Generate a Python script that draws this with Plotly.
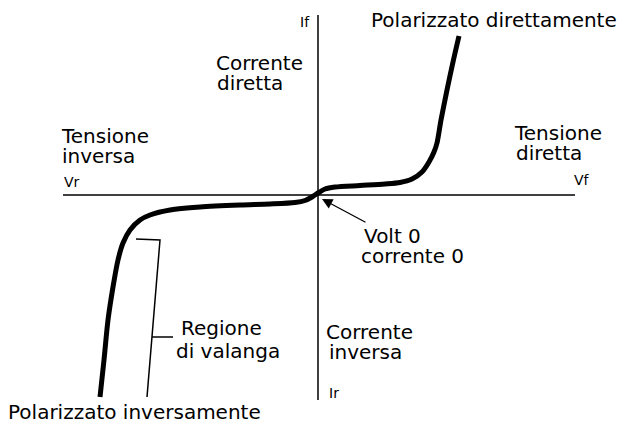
import plotly.graph_objects as go

# Diode I-V characteristic (arbitrary units, origin at axes crossing)
volt = [-21.8, -21.4, -21.0, -20.5, -20.0, -19.5, -18.8, -17.8, -16.8, -14.8,
        -11.8, -7.8, -4.8, -2.3, -1.3, -0.6, 0.0, 0.7, 1.7, 4.2,
        6.7, 8.2, 9.4, 10.4, 11.1, 11.6, 11.9, 12.3, 12.9, 13.5, 14.1]
curr = [-20.2, -16.5, -12.5, -9.2, -6.5, -4.8, -3.5, -2.5, -2.0, -1.5,
        -1.2, -1.0, -0.9, -0.75, -0.55, -0.2, 0.2, 0.6, 0.8, 0.95,
        1.1, 1.25, 1.6, 2.3, 3.3, 4.3, 5.2, 7.5, 10.5, 13.3, 15.9]

# Avalanche-region bracket
brk_v = [-18.2, -15.8, -17.1]
brk_i = [-4.4, -4.5, -20.2]
tick_v = [-16.6, -14.5]
tick_i = [-14.2, -14.2]

# Axis extents
x_axis_v = [-25.5, 25.7]
y_axis_i = [-20.5, 18.0]

FONT = "DejaVu Sans"

fig = go.Figure()

fig.add_trace(go.Scatter(x=x_axis_v, y=[0, 0], mode="lines",
                         line=dict(color="black", width=1.5), hoverinfo="skip"))
fig.add_trace(go.Scatter(x=[0, 0], y=y_axis_i, mode="lines",
                         line=dict(color="black", width=1.5), hoverinfo="skip"))
fig.add_trace(go.Scatter(x=brk_v, y=brk_i, mode="lines",
                         line=dict(color="black", width=1.5), hoverinfo="skip"))
fig.add_trace(go.Scatter(x=tick_v, y=tick_i, mode="lines",
                         line=dict(color="black", width=1.5), hoverinfo="skip"))
fig.add_trace(go.Scatter(x=volt, y=curr, mode="lines",
                         line=dict(color="black", width=5, shape="spline", smoothing=0.8),
                         hoverinfo="skip"))

labels = [
    # text, x, y, size, xanchor
    ("If", -0.7, 17.3, 14, "right"),
    ("Corrente", -10.3, 13.2, 20, "left"),
    ("diretta", -10.2, 11.2, 20, "left"),
    ("Tensione", -25.8, 5.9, 20, "left"),
    ("inversa", -25.7, 3.9, 20, "left"),
    ("Vr", -25.5, 1.3, 14, "left"),
    ("Polarizzato direttamente", 5.2, 17.5, 20, "left"),
    ("Tensione", 19.5, 6.2, 20, "left"),
    ("diretta", 19.7, 4.2, 20, "left"),
    ("Vf", 25.5, 1.5, 14, "left"),
    ("Volt 0", 4.5, -4.1, 20, "left"),
    ("corrente 0", 4.2, -6.1, 20, "left"),
    ("Corrente", 0.7, -13.7, 20, "left"),
    ("inversa", 1.0, -15.7, 20, "left"),
    ("Ir", 1.0, -19.8, 14, "left"),
    ("Regione", -13.8, -13.3, 20, "left"),
    ("di valanga", -14.3, -15.6, 20, "left"),
    ("Polarizzato inversamente", -31.1, -21.7, 20, "left"),
]
for t, x, y, s, xa in labels:
    fig.add_annotation(x=x, y=y, text=t, showarrow=False, xanchor=xa, yanchor="middle",
                       borderpad=0, font=dict(family=FONT, size=s, color="black"))

# Arrow to origin
fig.add_annotation(x=0.4, y=-0.4, ax=4.9, ay=-2.8, axref="x", ayref="y",
                   text="", showarrow=True, arrowhead=2, arrowsize=1.6,
                   arrowwidth=1.3, arrowcolor="black")

fig.update_layout(
    width=626, height=423,
    margin=dict(l=0, r=0, t=0, b=0),
    paper_bgcolor="white", plot_bgcolor="white",
    showlegend=False,
    xaxis=dict(range=[-31.8, 30.8], visible=False, fixedrange=True),
    yaxis=dict(range=[-22.8, 19.5], visible=False, fixedrange=True),
)

fig.write_html("out.html", config={"displayModeBar": False},
               post_script="document.body.style.margin='0';document.body.style.overflow='hidden';")
